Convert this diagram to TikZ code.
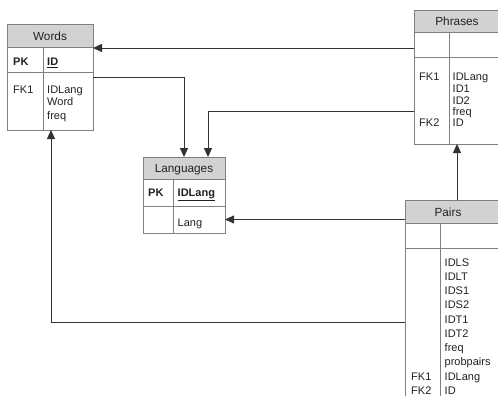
\documentclass[tikz,border=0pt]{standalone}
\usepackage{fontspec}
\setmainfont{Liberation Sans}
\usetikzlibrary{calc,arrows.meta}
\definecolor{bordergray}{HTML}{808080}
\definecolor{hdrgray}{HTML}{D2D2D2}
\definecolor{linegray}{HTML}{333333}
\definecolor{txtgray}{HTML}{222222}
\begin{document}
\begin{tikzpicture}[x=1pt,y=-1pt,
  cell/.style={draw=bordergray,line width=1pt,inner sep=0pt,outer sep=0pt,fill=white},
  hdr/.style={cell,fill=hdrgray},
  divline/.style={draw=bordergray,line width=1pt},
  fk/.style={draw=linegray,line width=0.85pt,-{Triangle[length=9pt,width=8pt]}},
  txt/.style={text=txtgray,font=\fontsize{11}{13}\selectfont,inner sep=0pt,anchor=base west},
  ttl/.style={text=txtgray,font=\fontsize{11.8}{13}\selectfont,inner sep=0pt,anchor=base},
  key/.style={txt,font=\fontsize{11}{13}\selectfont\bfseries}]
\clip (0,0) rectangle (498,396);
\fill[white] (0,0) rectangle (498,396);

% ---------- Words ----------
\node[hdr,minimum width=86pt,minimum height=23pt] (wordshead) at (50,36.5) {};
\node[cell,minimum width=86pt,minimum height=25pt] (wordspk) at (50,60.5) {};
\node[cell,minimum width=86pt,minimum height=57pt] (wordsbody) at (50,101.5) {};
\draw[divline] ($(wordspk.north west)+(36,0)$) -- ($(wordsbody.south west)+(36,0)$);
\node[ttl] (wordst) at (50,41) {Words};
\node[key] (wordspkk) at (13,66) {PK};
\node[key] (wordsid) at (47,66) {\underline{ID}};
\node[txt] (wordsfk) at (13,93) {FK1};
\node[txt] (wordsf1) at (47,93) {IDLang};
\node[txt] (wordsf2) at (47,106) {Word};
\node[txt] (wordsf3) at (47,119) {freq};

% ---------- Languages ----------
\node[hdr,minimum width=82pt,minimum height=22pt] (langhead) at (184,168) {};
\node[cell,minimum width=82pt,minimum height=27pt] (langpk) at (184,192.5) {};
\node[cell,minimum width=82pt,minimum height=27pt] (langbody) at (184,219.5) {};
\draw[divline] ($(langpk.north west)+(30,0)$) -- ($(langbody.south west)+(30,0)$);
\node[ttl] (langt) at (184,172) {Languages};
\node[key] (langpkk) at (148,196) {PK};
\node[key] (langid) at (177.5,196) {\underline{IDLang}};
\node[txt] (langf1) at (177.5,226) {Lang};

% ---------- Phrases ----------
\node[hdr,minimum width=86pt,minimum height=22pt] (phrhead) at (457,22) {};
\node[cell,minimum width=86pt,minimum height=25pt] (phrpk) at (457,45.5) {};
\node[cell,minimum width=86pt,minimum height=86pt] (phrbody) at (457,101) {};
\draw[divline] ($(phrpk.north west)+(35,0)$) -- ($(phrbody.south west)+(35,0)$);
\node[ttl] (phrt) at (457,26) {Phrases};
\node[txt] (phrfk1) at (419,81) {FK1};
\node[txt] (phrf1) at (452.5,81) {IDLang};
\node[txt] (phrf2) at (452.5,92.5) {ID1};
\node[txt] (phrf3) at (452.5,104) {ID2};
\node[txt] (phrf4) at (452.5,115) {freq};
\node[txt] (phrfk2) at (419,126.5) {FK2};
\node[txt] (phrf5) at (452.5,126.5) {ID};

% ---------- Pairs ----------
\node[hdr,minimum width=110pt,minimum height=23pt] (pairhead) at (460,211.5) {};
\node[cell,minimum width=110pt,minimum height=25pt] (pairpk) at (460,235.5) {};
\node[cell,minimum width=110pt,minimum height=172pt] (pairbody) at (460,334) {};
\draw[divline] ($(pairpk.north west)+(35,0)$) -- ($(pairbody.south west)+(35,0)$);
\node[ttl] (pairt) at (448,216) {Pairs};
\node[txt] (pairf1) at (444.5,266) {IDLS};
\node[txt] (pairf2) at (444.5,280.25) {IDLT};
\node[txt] (pairf3) at (444.5,294.5) {IDS1};
\node[txt] (pairf4) at (444.5,308.75) {IDS2};
\node[txt] (pairf5) at (444.5,323) {IDT1};
\node[txt] (pairf6) at (444.5,337.25) {IDT2};
\node[txt] (pairf7) at (444.5,351.5) {freq};
\node[txt] (pairf8) at (444.5,365.75) {probpairs};
\node[txt] (pairf9) at (444.5,380) {IDLang};
\node[txt] (pairf10) at (444.5,394.25) {ID};
\node[txt] (pairfk1) at (411,380) {FK1};
\node[txt] (pairfk2) at (411,394.25) {FK2};

% ---------- connectors ----------
\draw[fk] (phrpk.west |- wordshead.south east) -- (wordshead.south east);
\draw[fk] ($(wordsbody.north east)+(0,4)$) -| (langhead.north);
\draw[fk] ($(phrbody.west)+(0,10)$) -| ($(langhead.north)+(24,0)$);
\draw[fk] (pairhead.north -| phrbody.south) -- (phrbody.south);
\draw[fk] (langbody.east -| pairhead.west) -- (langbody.east);
\draw[fk] ($(pairbody.west)+(0,-12)$) -| ($(wordsbody.south west)+(44,0)$);
\end{tikzpicture}
\end{document}
